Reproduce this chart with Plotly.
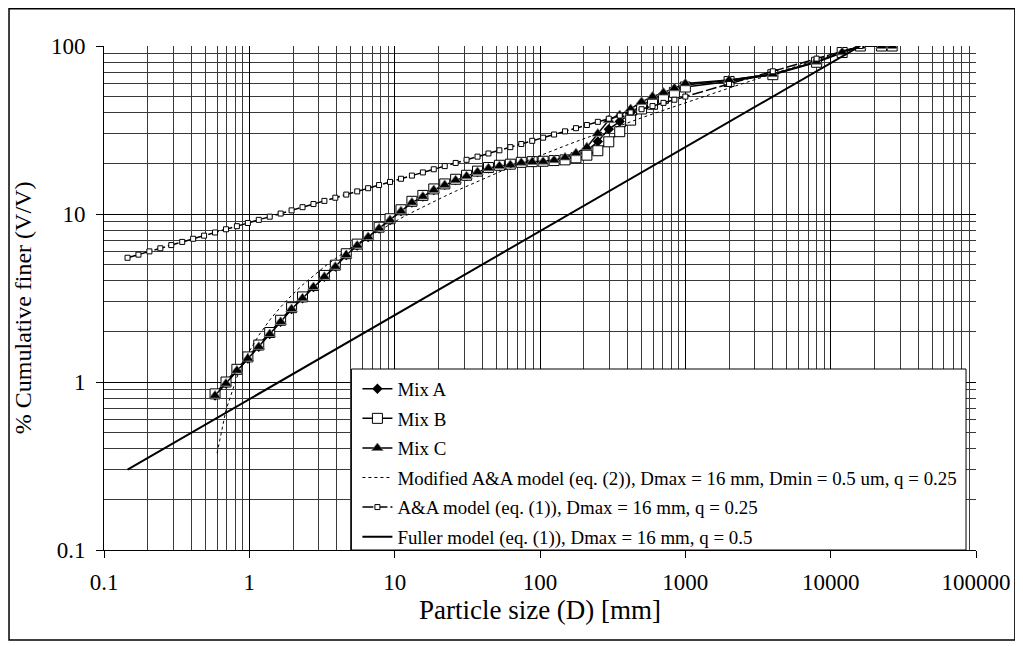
import plotly.graph_objects as go

# ---------------- data ----------------
# size classes used by the three mixes (mm as labelled on the axis)
d_mix = [0.581, 0.691, 0.821, 0.977, 1.161, 1.381, 1.642, 1.953, 2.323, 2.762,
         3.285, 3.906, 4.645, 5.524, 6.570, 7.813, 9.291, 11.05, 13.14, 15.63,
         18.58, 22.10, 26.28, 31.25, 37.16, 44.19, 52.56, 62.50, 74.33, 88.39,
         105.1, 125.0, 148.7, 176.8, 210.2, 250.0, 297.3, 353.6, 420.4, 500.0,
         594.6, 707.1, 840.9, 1000, 2000, 4000, 8000, 12000, 16000, 22400, 26500]

mix_a = [0.83, 0.98, 1.17, 1.38, 1.62, 1.93, 2.28, 2.72, 3.15, 3.68,
         4.23, 4.86, 5.70, 6.50, 7.30, 8.20, 9.20, 10.4, 11.7, 12.7,
         13.9, 14.9, 15.9, 16.8, 17.8, 18.7, 19.3, 19.6, 20.2, 20.4,
         20.5, 20.9, 21.3, 22.2, 23.8, 27.0, 32.0, 35.5, 40.0, 44.5,
         48.0, 51.0, 54.5, 58.5, 62.5, 68.0, 80.5, 91.7, 100, 100, 100]

mix_b = [0.85, 1.00, 1.19, 1.41, 1.66, 1.97, 2.33, 2.77, 3.21, 3.75,
         4.31, 4.96, 5.80, 6.62, 7.44, 8.35, 9.37, 10.6, 11.9, 12.9,
         14.1, 15.1, 16.1, 17.0, 18.0, 18.9, 19.5, 19.8, 20.3, 20.5,
         20.6, 20.8, 21.0, 21.6, 22.4, 23.8, 26.9, 30.9, 36.2, 42.2,
         45.0, 48.8, 53.0, 57.0, 61.5, 67.5, 80.0, 91.5, 100, 100, 100]

mix_c = [0.83, 0.98, 1.17, 1.38, 1.62, 1.93, 2.28, 2.72, 3.15, 3.68,
         4.23, 4.86, 5.70, 6.50, 7.30, 8.20, 9.20, 10.4, 11.7, 12.7,
         13.9, 14.9, 15.9, 16.8, 17.8, 18.7, 19.3, 19.6, 20.2, 20.4,
         20.5, 20.9, 21.7, 23.0, 25.0, 30.1, 36.2, 38.8, 42.2, 46.5,
         50.0, 52.8, 56.0, 59.9, 62.8, 68.0, 80.7, 91.7, 100, 100, 100]

# A&A model (eq. 1) sizes and values
d_aa = [0.1452, 0.1726, 0.2053, 0.2441, 0.2903, 0.3453, 0.4106, 0.4883,
        0.581, 0.691, 0.821, 0.977, 1.161, 1.381, 1.642, 1.953, 2.323, 2.762,
        3.285, 3.906, 4.645, 5.524, 6.570, 7.813, 9.291, 11.05, 13.14, 15.63,
        18.58, 22.10, 26.28, 31.25, 37.16, 44.19, 52.56, 62.50, 74.33, 88.39,
        105.1, 125.0, 148.7, 176.8, 210.2, 250.0, 297.3, 353.6, 420.4, 500.0,
        594.6, 707.1, 840.9, 1000, 2000, 4000, 8000, 16000]
aa_model = [5.49, 5.73, 5.99, 6.25, 6.53, 6.82, 7.12, 7.43, 7.76, 8.11,
            8.46, 8.84, 9.23, 9.64, 10.06, 10.51, 10.98, 11.46, 11.97, 12.50,
            13.05, 13.63, 14.24, 14.87, 15.52, 16.21, 16.93, 17.68, 18.46, 19.28,
            20.13, 21.02, 21.95, 22.92, 23.94, 25.00, 26.11, 27.26, 28.47, 29.73,
            31.05, 32.42, 33.86, 35.36, 36.92, 38.55, 40.26, 42.04, 43.90, 45.85,
            47.88, 50.00, 59.46, 70.71, 84.09, 100]

# Modified A&A model (eq. 2)
d_mod = [0.600, 0.691, 0.821, 0.977, 1.161, 1.381, 1.642, 1.953, 2.323, 2.762,
         3.285, 3.906, 4.645, 5.524, 6.570, 7.813, 9.291, 11.05, 13.14, 15.63,
         18.58, 22.10, 26.28, 31.25, 37.16, 44.19, 52.56, 62.50, 74.33, 88.39,
         105.1, 125.0, 148.7, 176.8, 210.2, 250.0, 297.3, 353.6, 420.4, 500.0,
         594.6, 707.1, 840.9, 1000, 2000, 4000, 8000, 16000]
mod_aa_model = [0.377, 0.680, 1.067, 1.472, 1.895, 2.337, 2.798, 3.279, 3.782, 4.308,
                4.856, 5.429, 6.027, 6.652, 7.304, 7.985, 8.697, 9.440, 10.215, 11.025,
                11.871, 12.754, 13.677, 14.640, 15.646, 16.697, 17.794, 18.939, 20.136, 21.384,
                22.689, 24.051, 25.474, 26.960, 28.511, 30.131, 31.823, 33.590, 35.435, 37.362,
                39.373, 41.474, 43.668, 45.959, 56.18, 68.34, 82.80, 100]

# Fuller model
d_fuller = [0.1452, 1, 10, 100, 1000, 10000, 16000]
fuller_model = [0.301, 0.791, 2.50, 7.91, 25.0, 79.1, 100]

x_tick_vals = [0.1, 1, 10, 100, 1000, 10000, 100000]
x_tick_text = ["0.1", "1", "10", "100", "1000", "10000", "100000"]
y_tick_vals = [0.1, 1, 10, 100]
y_tick_text = ["0.1", "1", "10", "100"]

names = ["Mix A", "Mix B", "Mix C",
         "Modified A&A model (eq. (2)), Dmax = 16 mm, Dmin = 0.5 um, q = 0.25",
         "A&A model (eq. (1)), Dmax = 16 mm, q = 0.25",
         "Fuller model (eq. (1)), Dmax = 16 mm, q = 0.5"]

# ---------------- figure ----------------
FONT = "Liberation Serif, Times New Roman, serif"
fig = go.Figure()

fig.add_trace(go.Scatter(x=d_mix, y=mix_a, name=names[0], mode="lines+markers",
                         line=dict(color="black", width=1.5),
                         marker=dict(symbol="diamond", size=8, color="black"),
                         legendgroup="a"))
fig.add_trace(go.Scatter(x=d_mix, y=mix_b, name=names[1], mode="lines+markers",
                         line=dict(color="black", width=1.5),
                         marker=dict(symbol="square", size=10, color="white",
                                     line=dict(color="black", width=1)),
                         legendgroup="b"))
fig.add_trace(go.Scatter(x=d_mix, y=mix_c, name=names[2], mode="lines+markers",
                         line=dict(color="black", width=1.5),
                         marker=dict(symbol="triangle-up", size=10, color="black",
                                     line=dict(color="#777", width=0.8)),
                         legendgroup="c"))
fig.add_trace(go.Scatter(x=d_mod, y=mod_aa_model, name=names[3], mode="lines",
                         line=dict(color="black", width=1, dash="3px,3px"),
                         legendgroup="d"))
fig.add_trace(go.Scatter(x=d_aa, y=aa_model, name=names[4], mode="lines+markers",
                         line=dict(color="black", width=1.5, dash="11px,3px"),
                         marker=dict(symbol="square", size=5, color="white",
                                     line=dict(color="black", width=1)),
                         legendgroup="e"))
fig.add_trace(go.Scatter(x=d_fuller, y=fuller_model, name=names[5], mode="lines",
                         line=dict(color="black", width=2),
                         legendgroup="f"))

# minor grid positions (2..9 within each decade)
x_minor = [m * 10 ** e for e in range(-1, 5) for m in range(2, 10)]
y_minor = [m * 10 ** e for e in range(-1, 2) for m in range(2, 10)]

axis_common = dict(type="log", showline=True, linecolor="black", linewidth=1,
                   ticks="outside", ticklen=7, tickcolor="black", tickwidth=1,
                   showgrid=True, gridcolor="black", gridwidth=1, zeroline=False,
                   tickfont=dict(family=FONT, size=23, color="black"))

fig.update_xaxes(**axis_common, range=[-1, 5], tickmode="array",
                 tickvals=x_tick_vals, ticktext=x_tick_text,
                 minor=dict(tickmode="array", tickvals=x_minor, showgrid=True,
                            gridcolor="#3a3a3a", gridwidth=1, ticks=""),
                 ticklabelstandoff=4,
                 title=dict(text="Particle size (D) [mm]", standoff=4,
                            font=dict(family=FONT, size=27, color="black")))
fig.update_yaxes(**axis_common, range=[-1, 2], tickmode="array",
                 tickvals=y_tick_vals, ticktext=y_tick_text,
                 minor=dict(tickmode="array", tickvals=y_minor, showgrid=True,
                            gridcolor="#3a3a3a", gridwidth=1, ticks=""),
                 ticklabelstandoff=6)

# the page body adds an 8 px offset; work in page pixel coordinates
OFF = 8
W, H = 1015, 638
PL, PT, PR, PB = 104, 46, 978, 550          # plot area in page pixels
L, T = PL - OFF, PT - OFF
R, B = W - (PR - OFF), H - (PB - OFF)
pw, ph = PR - PL, PB - PT

def px_x(p):
    return (p - PL) / pw

def px_y(p):
    return (PB - p) / ph

shapes = [
    # outer frame of the whole picture
    dict(type="rect", xref="paper", yref="paper",
         x0=px_x(OFF + 0.8), x1=px_x(1017), y0=px_y(640), y1=px_y(OFF + 0.8),
         line=dict(color="black", width=1.5), fillcolor="rgba(0,0,0,0)", layer="above"),
    # legend box
    dict(type="rect", xref="paper", yref="paper",
         x0=px_x(352), x1=px_x(968), y0=px_y(550), y1=px_y(369),
         line=dict(color="black", width=1), fillcolor="white", layer="above"),
]

annotations = [
    dict(text="% Cumulative finer (V/V)", xref="paper", yref="paper",
         x=px_x(23), y=px_y(308), xanchor="center", yanchor="middle",
         textangle=-90, showarrow=False,
         font=dict(family=FONT, size=24, color="black")),
]

fig.update_layout(
    width=W, height=H,
    margin=dict(l=L, r=R, t=T, b=B),
    paper_bgcolor="white", plot_bgcolor="white",
    font=dict(family=FONT, size=16, color="black"),
    shapes=shapes,
    annotations=annotations,
    showlegend=True,
    legend=dict(x=px_x(358), y=px_y(370), xanchor="left", yanchor="top",
                bgcolor="rgba(0,0,0,0)", borderwidth=0,
                font=dict(family=FONT, size=18.9, color="black"),
                traceorder="grouped", tracegroupgap=2, itemwidth=30),
)

fig.write_html("out.html")
